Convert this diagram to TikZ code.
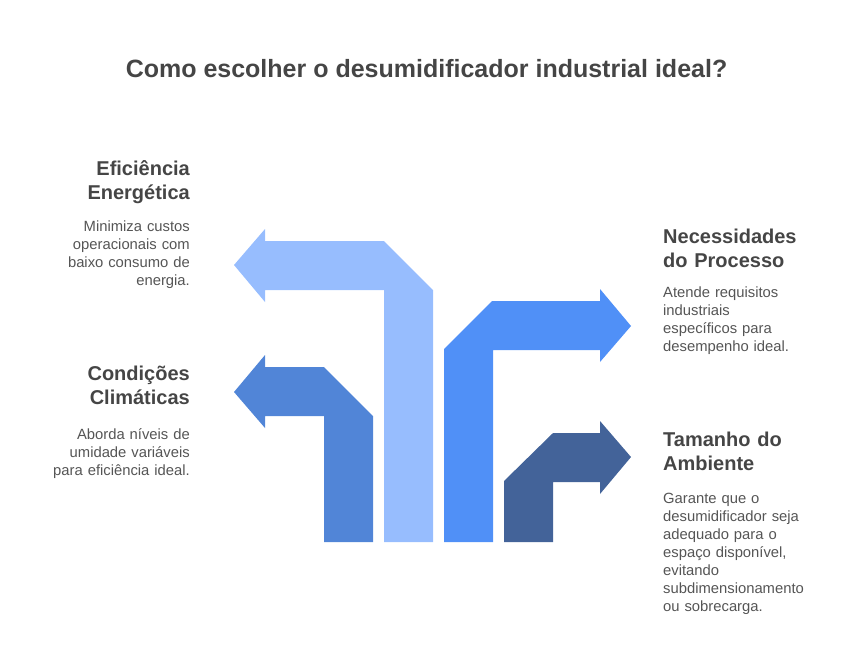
\documentclass[tikz,border=0pt]{standalone}
\usepackage{fontspec}
\setmainfont{Liberation Sans}
\definecolor{lightblue}{HTML}{97BDFE}
\definecolor{midblue}{HTML}{5185D7}
\definecolor{brightblue}{HTML}{5090F7}
\definecolor{darkblue}{HTML}{436399}
\definecolor{headgray}{HTML}{454545}
\definecolor{bodygray}{HTML}{555555}

\begin{document}
\begin{tikzpicture}[x=1pt,y=-1pt,
  heading/.style={inner sep=0pt,text=headgray,font=\fontsize{20}{24}\selectfont\bfseries},
  body/.style={inner sep=0pt,text=bodygray,font=\fontsize{14.8}{18}\selectfont},
  lefttext/.style={anchor=base east,text width=170pt,align=right},
  righttext/.style={anchor=base west,text width=180pt,align=left}]
\useasboundingbox (0,0) rectangle (853,657);
\node[inner sep=0pt,anchor=base,text=headgray,font=\fontsize{25}{30}\selectfont\bfseries] (title) at (426.5,77) {Como escolher o desumidificador industrial ideal?};
% arrows
\fill[lightblue] (234,265)--(265,229)--(265,241)--(384,241)--(433,290)--(433,542)--(384,542)--(384,290)--(265,290)--(265,302)--cycle;
\fill[midblue] (234,392)--(265,355)--(265,367)--(324,367)--(373,416)--(373,542)--(324,542)--(324,416)--(265,416)--(265,428)--cycle;
\fill[brightblue] (444,542)--(444,349)--(492,301)--(600,301)--(600,289)--(631,326)--(600,362)--(600,350)--(493,350)--(493,542)--cycle;
\fill[darkblue] (504,542)--(504,481)--(553,433)--(600,433)--(600,421)--(631,457)--(600,494)--(600,482)--(553,482)--(553,542)--cycle;
% left side
\node[heading,lefttext] (eficiencia) at (190,175) {Eficiência\\Energética};
\node[body,lefttext] (eficienciatxt) at (190,231) {Minimiza custos\\operacionais com\\baixo consumo de\\energia.};
\node[heading,lefttext] (condicoes) at (190,380) {Condições\\Climáticas};
\node[body,lefttext] (condicoestxt) at (190,439) {Aborda níveis de\\umidade variáveis\\para eficiência ideal.};
% right side
\node[heading,righttext] (necessidades) at (663,243) {Necessidades\\do Processo};
\node[body,righttext] (necessidadestxt) at (663,297) {Atende requisitos\\industriais\\específicos para\\desempenho ideal.};
\node[heading,righttext] (tamanho) at (663,446) {Tamanho do\\Ambiente};
\node[body,righttext] (tamanhotxt) at (663,503) {Garante que o\\desumidificador seja\\adequado para o\\espaço disponível,\\evitando\\subdimensionamento\\ou sobrecarga.};
\end{tikzpicture}
\end{document}
